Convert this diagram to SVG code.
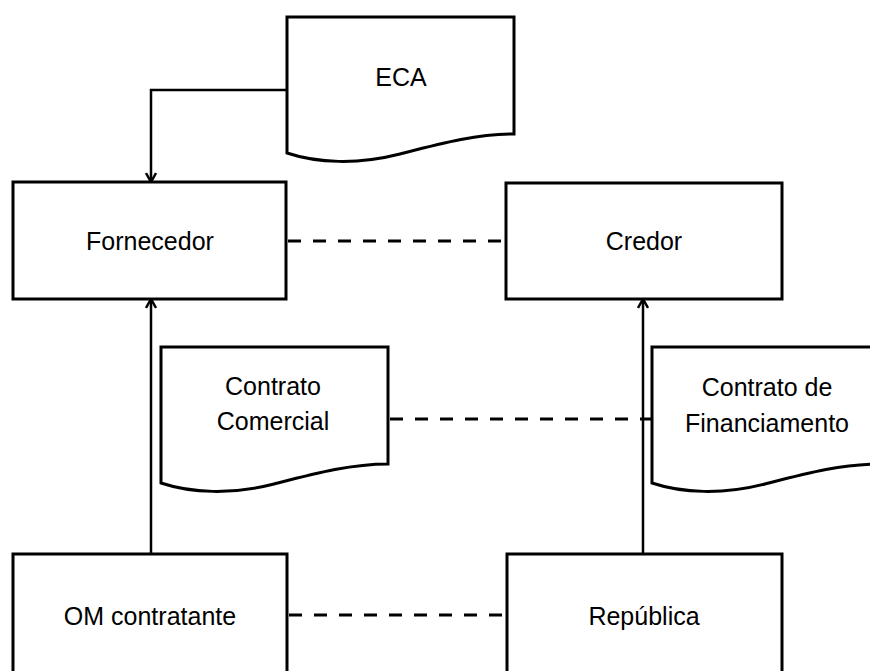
<svg xmlns="http://www.w3.org/2000/svg" width="870" height="671" viewBox="0 0 870 671">
  <style>
    .box { fill: #fff; stroke: #000; stroke-width: 3; }
    .lbl { font-family: "Liberation Sans", Arial, sans-serif; font-size: 25px; fill: #000; text-anchor: middle; }
    .arrow { fill: none; stroke: #000; stroke-width: 2.5; marker-end: url(#head); }
    .dash { fill: none; stroke: #000; stroke-width: 3; stroke-dasharray: 13 12; }
  </style>
  <defs>
    <marker id="head" viewBox="0 0 12 12" refX="11" refY="6" markerWidth="12" markerHeight="12" markerUnits="userSpaceOnUse" orient="auto">
      <path d="M2,1 L11,6 L2,11" fill="none" stroke="#000" stroke-width="2.5"/>
    </marker>
    <path id="doc" d="M0,0 H227 V117 C190,117 156,126 113,137 C70,148 30,146 0,136 Z"/>
  </defs>
  <rect width="870" height="671" fill="#fff"/>

  <g id="eca">
    <use href="#doc" class="box" x="287" y="17"/>
    <text class="lbl" x="401" y="86">ECA</text>
  </g>
  <g id="fornecedor">
    <rect class="box" x="13" y="182" width="273" height="117"/>
    <text class="lbl" x="150" y="250">Fornecedor</text>
  </g>
  <g id="credor">
    <rect class="box" x="506" y="183" width="276" height="116"/>
    <text class="lbl" x="644" y="250">Credor</text>
  </g>
  <g id="contrato-comercial">
    <use href="#doc" class="box" x="161" y="347"/>
    <text class="lbl" x="273" y="395">Contrato</text>
    <text class="lbl" x="273" y="430">Comercial</text>
  </g>
  <g id="contrato-financiamento">
    <use href="#doc" class="box" x="652" y="347"/>
    <text class="lbl" x="767" y="396">Contrato de</text>
    <text class="lbl" x="767" y="432">Financiamento</text>
  </g>
  <g id="om-contratante">
    <rect class="box" x="13" y="554" width="274" height="130"/>
    <text class="lbl" x="150" y="625">OM contratante</text>
  </g>
  <g id="republica">
    <rect class="box" x="507" y="554" width="275" height="130"/>
    <text class="lbl" x="644" y="625">República</text>
  </g>

  <g id="connectors">
    <path class="arrow" d="M287,90 H151 V182"/>
    <path class="arrow" d="M151,554 V299"/>
    <path class="arrow" d="M643,554 V299"/>
    <path class="dash" d="M288,241 H506"/>
    <path class="dash" d="M390,419 H652"/>
    <path class="dash" d="M289,615 H507"/>
  </g>
</svg>
